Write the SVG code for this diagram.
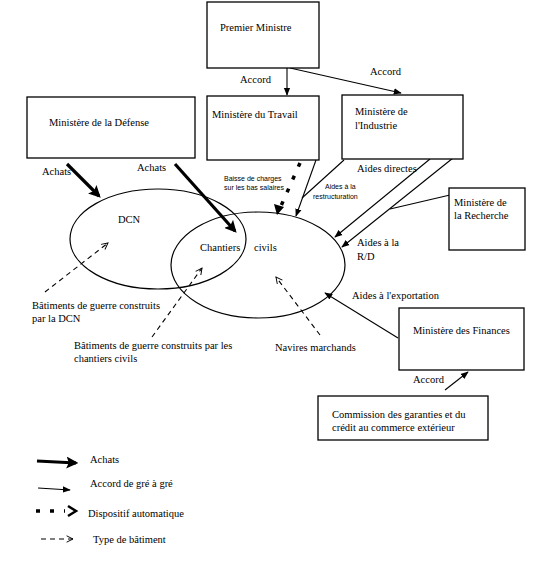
<svg xmlns="http://www.w3.org/2000/svg" width="539" height="574" viewBox="0 0 539 574" font-family="'Liberation Serif', 'Times New Roman', serif">
<defs>
<style>
text{font-family:'Liberation Serif','Times New Roman',serif;fill:#000;font-size:10.5px}
text.sm{font-size:7px;font-family:'Liberation Sans',Arial,sans-serif}
.box{fill:#fff;stroke:#000;stroke-width:1.3}
.ell{fill:none;stroke:#000;stroke-width:1.2}
.thin{stroke:#000;stroke-width:1.1;fill:none}
.thick{stroke:#000;stroke-width:3.2;fill:none}
.dot{stroke:#000;stroke-width:3.5;fill:none;stroke-dasharray:4 10}
.dash{stroke:#000;stroke-width:1.1;fill:none;stroke-dasharray:5 4}
</style>
<marker id="ah" viewBox="0 0 10 10" refX="9" refY="5" markerWidth="8" markerHeight="8" markerUnits="userSpaceOnUse" orient="auto"><path d="M0,1 L10,5 L0,9 Z" fill="#000"/></marker>
<marker id="ahk" viewBox="0 0 10 10" refX="8" refY="5" markerWidth="12" markerHeight="12" markerUnits="userSpaceOnUse" orient="auto"><path d="M0,0 L10,5 L0,10 L2,5 Z" fill="#000"/></marker>
<marker id="aho" viewBox="0 0 10 10" refX="9" refY="5" markerWidth="8" markerHeight="8" markerUnits="userSpaceOnUse" orient="auto"><path d="M1,1 L9,5 L1,9" fill="none" stroke="#000" stroke-width="1.2"/></marker>
</defs>
<rect width="539" height="574" fill="#fff"/>

<g id="ellipses">
<ellipse id="dcn" class="ell" cx="158" cy="239" rx="88" ry="50"/>
<ellipse id="chantiers" class="ell" cx="258" cy="265" rx="87" ry="53"/>
</g>

<g id="connectors">
<line class="thin" x1="287" y1="68" x2="287" y2="95" marker-end="url(#ah)"/>
<line class="thin" x1="290" y1="68" x2="401" y2="93" marker-end="url(#ah)"/>
<line class="thick" x1="67" y1="164" x2="99" y2="196" marker-end="url(#ahk)"/>
<line class="thick" x1="175" y1="164" x2="235" y2="231" marker-end="url(#ahk)"/>
<line class="dot" x1="300" y1="163" x2="281" y2="206"/>
<path d="M274,204 L284,207 L277,215 Z" fill="#000"/>
<line class="thin" x1="316" y1="160" x2="296" y2="216" marker-end="url(#ah)"/>
<line class="thin" x1="344" y1="160" x2="302" y2="198"/>
<line class="thin" x1="430" y1="159" x2="335" y2="237" marker-end="url(#ah)"/>
<line class="thin" x1="453" y1="158" x2="342" y2="247" marker-end="url(#ah)"/>
<line class="thin" x1="450" y1="195" x2="390" y2="209"/>
<line class="thin" x1="398" y1="338" x2="325" y2="293" marker-end="url(#ah)"/>
<line class="thin" x1="445" y1="390" x2="468" y2="372" marker-end="url(#ah)"/>
<line class="dash" x1="45" y1="292" x2="108" y2="243" marker-end="url(#aho)"/>
<line class="dash" x1="152" y1="337" x2="202" y2="268" marker-end="url(#aho)"/>
<line class="dash" x1="320" y1="335" x2="276" y2="277" marker-end="url(#aho)"/>
</g>

<g id="premier">
<rect class="box" x="207" y="2" width="112" height="66"/>
<text x="220" y="31">Premier Ministre</text>
</g>
<g id="travail">
<rect class="box" x="207" y="96" width="112" height="64"/>
<text x="212" y="118">Ministère du Travail</text>
</g>
<g id="industrie">
<rect class="box" x="342" y="95" width="121" height="64"/>
<text x="355" y="115">Ministère de</text>
<text x="355" y="129">l'Industrie</text>
</g>
<g id="defense">
<rect class="box" x="27" y="97" width="168" height="61"/>
<text x="49" y="126">Ministère de la Défense</text>
</g>
<g id="recherche">
<rect class="box" x="449" y="188" width="76" height="62"/>
<text x="454" y="206">Ministère de</text>
<text x="454" y="219">la Recherche</text>
</g>
<g id="finances">
<rect class="box" x="399" y="308" width="125" height="62"/>
<text x="413" y="334">Ministère des Finances</text>
</g>
<g id="commission">
<rect class="box" x="318" y="396" width="170" height="44"/>
<text x="332" y="418">Commission des garanties et du</text>
<text x="332" y="431">crédit au commerce extérieur</text>
</g>

<g id="labels">
<text x="240" y="83">Accord</text>
<text x="370" y="75">Accord</text>
<text x="42" y="175">Achats</text>
<text x="137" y="171">Achats</text>
<text x="118" y="223">DCN</text>
<text x="200" y="251">Chantiers</text>
<text x="254" y="251">civils</text>
<text class="sm" x="224" y="181">Baisse de charges</text>
<text class="sm" x="224" y="190">sur les bas salaires</text>
<text class="sm" x="325" y="189">Aides à la</text>
<text class="sm" x="313" y="199">restructuration</text>
<text x="357" y="172">Aides directes</text>
<text x="357" y="246">Aides à la</text>
<text x="357" y="260">R/D</text>
<text x="352" y="299">Aides à l'exportation</text>
<text x="32" y="309">Bâtiments de guerre construits</text>
<text x="32" y="322">par la DCN</text>
<text x="74" y="349">Bâtiments de guerre construits par les</text>
<text x="74" y="362">chantiers civils</text>
<text x="275" y="351">Navires marchands</text>
<text x="413" y="383">Accord</text>
</g>

<g id="legend">
<line class="thick" x1="37" y1="461" x2="76" y2="463" marker-end="url(#ahk)"/>
<text x="90" y="463">Achats</text>
<line class="thin" x1="38" y1="488" x2="70" y2="490" marker-end="url(#ah)"/>
<text x="90" y="487">Accord de gré à gré</text>
<line class="dot" x1="36" y1="511" x2="65" y2="511" stroke-dasharray="3 9"/>
<path d="M68,506 L76,511 L68,516" fill="none" stroke="#000" stroke-width="2.5"/>
<text x="88" y="517">Dispositif automatique</text>
<line class="dash" x1="41" y1="539" x2="73" y2="539" stroke-dasharray="4 4" marker-end="url(#aho)"/>
<text x="93" y="543">Type de bâtiment</text>
</g>
</svg>
